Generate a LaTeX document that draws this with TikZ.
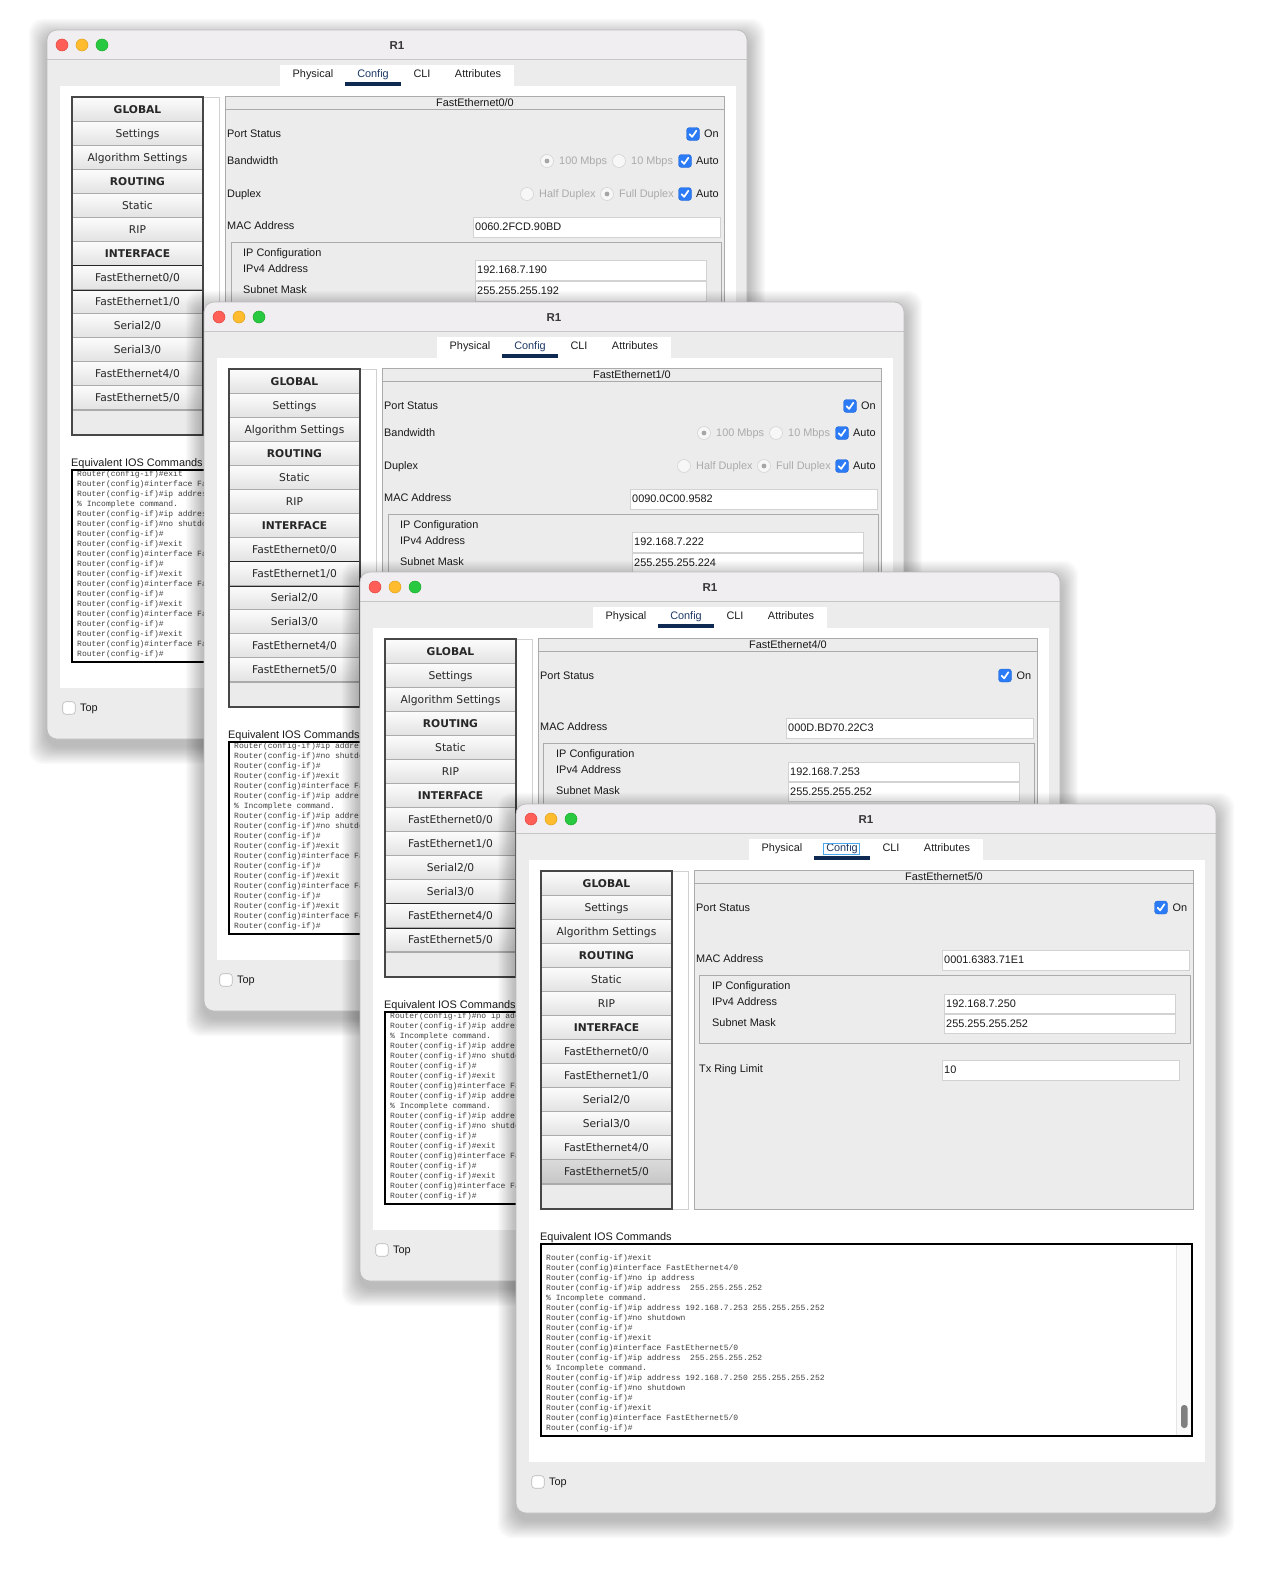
\documentclass[tikz,border=0pt]{standalone}
\usepackage{fontspec}
\setmainfont{Liberation Sans}
\newfontfamily\listfont{DejaVu Sans}
\newfontfamily\monofont{Liberation Mono}
\usetikzlibrary{calc}

\definecolor{winbg}{HTML}{ECECEC}
\definecolor{listbg}{HTML}{EBEBEB}
\definecolor{titlebg}{HTML}{F0EEF0}
\definecolor{titleline}{HTML}{C6C6C6}
\definecolor{winborder}{HTML}{BDBDBD}
\definecolor{tlred}{HTML}{FF5F57}
\definecolor{tlredb}{HTML}{E2463F}
\definecolor{tlyel}{HTML}{FEBC2E}
\definecolor{tlyelb}{HTML}{E1A116}
\definecolor{tlgrn}{HTML}{28C840}
\definecolor{tlgrnb}{HTML}{1DAD2B}
\definecolor{navy}{HTML}{0E2A52}
\definecolor{cfgblue}{HTML}{1E3A66}
\definecolor{panelline}{HTML}{ABABAB}
\definecolor{fieldline}{HTML}{D2D2D2}
\definecolor{cbblue}{HTML}{2B7BF6}
\definecolor{disabled}{HTML}{ABABAB}
\definecolor{rowsep}{HTML}{ABABAB}
\definecolor{rowtop}{HTML}{FBFBFB}
\definecolor{rowbot}{HTML}{E2E2E2}
\definecolor{seltop}{HTML}{DADADA}
\definecolor{selbot}{HTML}{C6C6C6}
\definecolor{iostext}{HTML}{404040}
\definecolor{focusblue}{HTML}{4AA8F0}

\tikzset{
  lbl/.style={anchor=base west, yshift=-3.9pt, inner sep=0pt, font=\fontsize{10.9}{12}\selectfont, text=black!90},
  hdrlbl/.style={anchor=base, yshift=-3.9pt, inner sep=0pt, font=\fontsize{10.9}{12}\selectfont, text=black!90},
  titlelbl/.style={anchor=base, yshift=-4pt, inner sep=0pt, font=\bfseries\fontsize{11.5}{13}\selectfont, text=black!78},
  listlbl/.style={anchor=base, yshift=-3.9pt, inner sep=0pt, font=\listfont\fontsize{10.7}{12}\selectfont, text=black!85},
  tablbl/.style={anchor=base, yshift=-3.9pt, inner sep=0pt, font=\fontsize{10.9}{12}\selectfont, text=black!88},
  dimtxt/.style={anchor=base west, yshift=-3.9pt, inner sep=0pt, font=\fontsize{10.9}{12}\selectfont, text=disabled},
  field/.style={fill=white, draw=fieldline, line width=0.6pt},
  grp/.style={fill=winbg, draw=panelline, line width=0.7pt},
  cbox/.style={rectangle, rounded corners=3pt, fill=cbblue, draw=cbblue!85!black, line width=0.4pt, minimum size=13pt, inner sep=0pt},
  ticks/.style={draw=white, line width=1.7pt, line cap=round, line join=round},
  radiobtn/.style={circle, fill=black!3, draw=black!17, line width=0.6pt, minimum size=13pt, inner sep=0pt},
  topbox/.style={rectangle, rounded corners=3pt, fill=white, draw=black!28, line width=0.6pt, minimum size=12.5pt, inner sep=0pt},
  light/.style={circle, minimum size=12pt, inner sep=0pt, line width=0.5pt},
  iosl/.style={anchor=base west, inner sep=0pt, font=\monofont\fontsize{8}{10}\selectfont, text=iostext},
}

\newcommand{\checkmk}[1]{\draw[ticks] ([shift={(-3.4,0.2)}]#1.center) -- ([shift={(-0.9,2.9)}]#1.center) -- ([shift={(3.4,-3.3)}]#1.center);}
\newcommand{\radiodot}[1]{\fill[black!35] (#1.center) circle[radius=2.4pt];}

\newcommand{\winframe}[1]{%
  \foreach \s in {1,...,14}{\fill[black, opacity=0.018, rounded corners=14pt] ({-1.3*\s},{7-1.3*\s}) rectangle ({700+1.3*\s},{716+1.3*\s});}
  \fill[winbg, rounded corners=10pt] (0,0) rectangle (700,709);
  \begin{scope}\clip[rounded corners=10pt] (0,0) rectangle (700,709);\fill[titlebg] (0,0) rectangle (700,29);\end{scope}
  \draw[titleline, line width=0.8pt] (0,29.4) -- (700,29.4);
  \draw[winborder, line width=0.7pt, rounded corners=10pt] (0,0) rectangle (700,709);
  \node[light, fill=tlred, draw=tlredb] (#1-close) at (15,15) {};
  \node[light, fill=tlyel, draw=tlyelb] (#1-min) at (35,15) {};
  \node[light, fill=tlgrn, draw=tlgrnb] (#1-max) at (55,15) {};
  \node[titlelbl] (#1-title) at (350,15) {R1};
  \fill[white] (233,35) rectangle (467,56);
  \node[tablbl] (#1-tphys) at (266,44) {Physical};
  \node[tablbl, text=cfgblue] (#1-tcfg) at (326,44) {Config};
  \node[tablbl] (#1-tcli) at (375,44) {CLI};
  \node[tablbl] (#1-tattr) at (431,44) {Attributes};
  \fill[navy] (298,52) rectangle (354,56);
  \fill[white] (13,56) rectangle (689,658);
  \draw[fill=white, draw=black!18, line width=0.6pt] (25,67) rectangle (172,405);
  \draw[fill=winbg, draw=panelline, line width=0.7pt] (178,66) rectangle (677,405);
  \draw[panelline, line width=0.6pt] (178,79) -- (677,79);
  \node[lbl] (#1-ioslbl) at (24,433) {Equivalent IOS Commands};
  \fill[white] (25,440) rectangle (676,632);
  \node[topbox] (#1-topcb) at (22,678) {};
  \node[lbl] (#1-top) at (33,678) {Top};
}

\newcommand{\leftlist}[3]{%
  \fill[listbg] (25,67) rectangle (156,405);
  \foreach \lab [count=\k from 0] in {\textbf{GLOBAL},Settings,Algorithm Settings,\textbf{ROUTING},Static,RIP,\textbf{INTERFACE},FastEthernet0/0,FastEthernet1/0,Serial2/0,Serial3/0,FastEthernet4/0,FastEthernet5/0}{%
    \pgfmathsetmacro{\yt}{68+24*\k}%
    \ifnum\k=#2 \ifnum#3=1 \shade[top color=seltop, bottom color=selbot] (26,\yt) rectangle (155,\yt+24);\else\shade[top color=rowtop, bottom color=rowbot] (26,\yt) rectangle (155,\yt+24);\fi
    \else\shade[top color=rowtop, bottom color=rowbot] (26,\yt) rectangle (155,\yt+24);\fi
    \draw[rowsep, line width=1.4pt] (26,\yt+24) -- (155,\yt+24);
    \node[listlbl] (#1-row\k) at (90.5,\yt+12) {\lab};
  }
  \ifnum#3=0 \pgfmathsetmacro{\ys}{68+24*#2}\draw[black!85, line width=1.3pt] (25.7,\ys-0.3) rectangle (155.3,\ys+24.3);\fi
  \draw[black!72, line width=1.3pt] (25,67) rectangle (156,405);
}

\newcommand{\rightA}[5]{%
  \node[hdrlbl] (#1-hdr) at (428,72.5) {#2};
  \node[lbl] (#1-ps) at (180,104) {Port Status};
  \node[cbox] (#1-cbon) at (646,104) {};\checkmk{#1-cbon}
  \node[lbl] (#1-on) at (657,104) {On};
  \node[lbl] (#1-bw) at (180,131) {Bandwidth};
  \node[radiobtn] (#1-r100) at (500,131) {};\radiodot{#1-r100}
  \node[dimtxt] (#1-t100) at (512,131) {100 Mbps};
  \node[radiobtn] (#1-r10) at (572,131) {};
  \node[dimtxt] (#1-t10) at (584,131) {10 Mbps};
  \node[cbox] (#1-cbbw) at (638,131) {};\checkmk{#1-cbbw}
  \node[lbl] (#1-abw) at (649,131) {Auto};
  \node[lbl] (#1-dx) at (180,164) {Duplex};
  \node[radiobtn] (#1-rhalf) at (480,164) {};
  \node[dimtxt] (#1-thalf) at (492,164) {Half Duplex};
  \node[radiobtn] (#1-rfull) at (560,164) {};\radiodot{#1-rfull}
  \node[dimtxt] (#1-tfull) at (572,164) {Full Duplex};
  \node[cbox] (#1-cbdx) at (638,164) {};\checkmk{#1-cbdx}
  \node[lbl] (#1-adx) at (649,164) {Auto};
  \node[lbl] (#1-mac) at (180,196) {MAC Address};
  \draw[field] (426,187) rectangle (673,207);
  \node[lbl] (#1-macv) at (428,197) {#3};
  \draw[grp] (184,212) rectangle (674,281);
  \node[lbl] (#1-ipc) at (196,223) {IP Configuration};
  \node[lbl] (#1-ipv4) at (196,239) {IPv4 Address};
  \node[lbl] (#1-sm) at (196,260) {Subnet Mask};
  \draw[field] (428,230) rectangle (659,250);
  \node[lbl] (#1-ipv) at (430,240) {#4};
  \draw[field] (428,251) rectangle (659,271);
  \node[lbl] (#1-smv) at (430,261) {#5};
}

\newcommand{\rightB}[5]{%
  \node[hdrlbl] (#1-hdr) at (428,72.5) {#2};
  \node[lbl] (#1-ps) at (180,103.5) {Port Status};
  \node[cbox] (#1-cbon) at (645,103.5) {};\checkmk{#1-cbon}
  \node[lbl] (#1-on) at (656.5,103.5) {On};
  \node[lbl] (#1-mac) at (180,155) {MAC Address};
  \draw[field] (426,146) rectangle (673,166);
  \node[lbl] (#1-macv) at (428,156) {#3};
  \draw[grp] (183,171) rectangle (674,239);
  \node[lbl] (#1-ipc) at (196,182) {IP Configuration};
  \node[lbl] (#1-ipv4) at (196,198) {IPv4 Address};
  \node[lbl] (#1-sm) at (196,219) {Subnet Mask};
  \draw[field] (428,190) rectangle (659,209.5);
  \node[lbl] (#1-ipv) at (430,200) {#4};
  \draw[field] (428,210) rectangle (659,229.5);
  \node[lbl] (#1-smv) at (430,220) {#5};
}

\newcommand{\txring}[1]{%
  \node[lbl] (#1-tx) at (183,265) {Tx Ring Limit};
  \draw[field] (426,256) rectangle (663,276);
  \node[lbl] (#1-txv) at (428,266) {10};
}

\newcommand{\ioslines}[3]{%
  \begin{scope}
    \clip (26,441) rectangle (659,631);
    \foreach \ltext [count=\i] in {#3}{\node[iosl] (#1-ios\i) at (30,{#2+10*\i-10}) {\ltext};}
  \end{scope}
  \fill[black!2] (660,441) rectangle (675,631);
  \draw[black!10, line width=0.6pt] (660,441) -- (660,631);
  \fill[black!50, rounded corners=3pt] (665,601) rectangle (671.5,624);
  \draw[black, line width=2pt] (25,440) rectangle (676,632);
}

\begin{document}
\begin{tikzpicture}[x=1pt, y=-1pt]
\useasboundingbox (0,0) rectangle (1264,1579);
\fill[white] (0,0) rectangle (1264,1579);

% ---------- window 1 ----------
\begin{scope}[shift={(47,30)}]
  \winframe{wa}
  \leftlist{wa}{7}{0}
  \rightA{wa}{FastEthernet0/0}{0060.2FCD.90BD}{192.168.7.190}{255.255.255.192}
  \ioslines{wa}{446}{Router(config-if)\#exit,
    Router(config)\#interface Fa,
    Router(config-if)\#ip addres,
    \% Incomplete command.,
    Router(config-if)\#ip addres,
    Router(config-if)\#no shutdo,
    Router(config-if)\#,
    Router(config-if)\#exit,
    Router(config)\#interface Fa,
    Router(config-if)\#,
    Router(config-if)\#exit,
    Router(config)\#interface Fa,
    Router(config-if)\#,
    Router(config-if)\#exit,
    Router(config)\#interface Fa,
    Router(config-if)\#,
    Router(config-if)\#exit,
    Router(config)\#interface Fa,
    Router(config-if)\#}
\end{scope}

% ---------- window 2 ----------
\begin{scope}[shift={(204,302)}]
  \winframe{wb}
  \leftlist{wb}{8}{0}
  \rightA{wb}{FastEthernet1/0}{0090.0C00.9582}{192.168.7.222}{255.255.255.224}
  \ioslines{wb}{446}{Router(config-if)\#ip addres,
    Router(config-if)\#no shutdo,
    Router(config-if)\#,
    Router(config-if)\#exit,
    Router(config)\#interface Fa,
    Router(config-if)\#ip addres,
    \% Incomplete command.,
    Router(config-if)\#ip addres,
    Router(config-if)\#no shutdo,
    Router(config-if)\#,
    Router(config-if)\#exit,
    Router(config)\#interface Fa,
    Router(config-if)\#,
    Router(config-if)\#exit,
    Router(config)\#interface Fa,
    Router(config-if)\#,
    Router(config-if)\#exit,
    Router(config)\#interface Fa,
    Router(config-if)\#}
\end{scope}

% ---------- window 3 ----------
\begin{scope}[shift={(360,572)}]
  \winframe{wc}
  \leftlist{wc}{11}{0}
  \rightB{wc}{FastEthernet4/0}{000D.BD70.22C3}{192.168.7.253}{255.255.255.252}
  \ioslines{wc}{446}{Router(config-if)\#no ip add,
    Router(config-if)\#ip addres,
    \% Incomplete command.,
    Router(config-if)\#ip addres,
    Router(config-if)\#no shutdo,
    Router(config-if)\#,
    Router(config-if)\#exit,
    Router(config)\#interface Fa,
    Router(config-if)\#ip addres,
    \% Incomplete command.,
    Router(config-if)\#ip addres,
    Router(config-if)\#no shutdo,
    Router(config-if)\#,
    Router(config-if)\#exit,
    Router(config)\#interface Fa,
    Router(config-if)\#,
    Router(config-if)\#exit,
    Router(config)\#interface Fa,
    Router(config-if)\#}
\end{scope}

% ---------- window 4 ----------
\begin{scope}[shift={(516,804)}]
  \winframe{wd}
  \draw[focusblue, line width=0.8pt] (307,39) rectangle (343,50);
  \leftlist{wd}{12}{1}
  \rightB{wd}{FastEthernet5/0}{0001.6383.71E1}{192.168.7.250}{255.255.255.252}
  \txring{wd}
  \ioslines{wd}{456}{Router(config-if)\#exit,
    Router(config)\#interface FastEthernet4/0,
    Router(config-if)\#no ip address,
    Router(config-if)\#ip address\ \ 255.255.255.252,
    \% Incomplete command.,
    Router(config-if)\#ip address 192.168.7.253 255.255.255.252,
    Router(config-if)\#no shutdown,
    Router(config-if)\#,
    Router(config-if)\#exit,
    Router(config)\#interface FastEthernet5/0,
    Router(config-if)\#ip address\ \ 255.255.255.252,
    \% Incomplete command.,
    Router(config-if)\#ip address 192.168.7.250 255.255.255.252,
    Router(config-if)\#no shutdown,
    Router(config-if)\#,
    Router(config-if)\#exit,
    Router(config)\#interface FastEthernet5/0,
    Router(config-if)\#}
\end{scope}
\end{tikzpicture}
\end{document}
